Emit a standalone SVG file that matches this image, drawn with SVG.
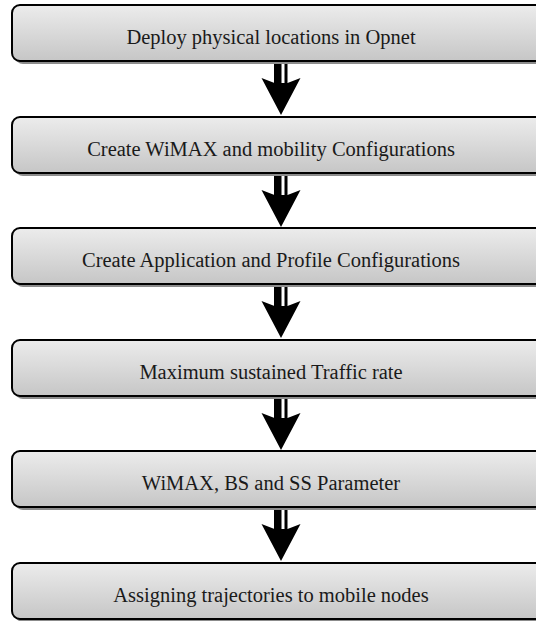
<svg xmlns="http://www.w3.org/2000/svg" width="536" height="621" viewBox="0 0 536 621">
  <defs>
    <linearGradient id="boxFill" x1="0" y1="0" x2="0" y2="1">
      <stop offset="0" stop-color="#ececec"/>
      <stop offset="1" stop-color="#c6c6c6"/>
    </linearGradient>
    <g id="downArrow">
      <!-- thick shaft, thin side rule, barbed head; origin at tip x, shaft top y -->
      <rect x="-7" y="0" width="7.5" height="24" fill="#000"/>
      <rect x="3.5" y="0" width="3" height="24" fill="#000"/>
      <path d="M-19.5,16 L-6.5,21 L6.5,21 L19.5,16 L0,53 Z" fill="#000"/>
    </g>
  </defs>
  <style>
    .shadow { fill: #8c8c8c; }
    .box { fill: url(#boxFill); stroke: #000; stroke-width: 2; }
    .label { font-family: "Liberation Serif", "Times New Roman", serif; font-size: 20.5px; fill: #1a1a1a; text-anchor: middle; dominant-baseline: central; }
  </style>

  <g id="connectors">
    <use href="#downArrow" x="281" y="62"/>
    <use href="#downArrow" x="281" y="174"/>
    <use href="#downArrow" x="281" y="285"/>
    <use href="#downArrow" x="281" y="397"/>
    <use href="#downArrow" x="281" y="508"/>
  </g>

  <g id="step1">
    <rect class="shadow" x="15" y="8" width="540" height="56" rx="8"/>
    <rect class="box" x="12" y="5" width="540" height="56" rx="8"/>
    <text class="label" x="271" y="37">Deploy physical locations in Opnet</text>
  </g>
  <g id="step2">
    <rect class="shadow" x="15" y="120" width="540" height="56" rx="8"/>
    <rect class="box" x="12" y="117" width="540" height="56" rx="8"/>
    <text class="label" x="271" y="149">Create WiMAX and mobility Configurations</text>
  </g>
  <g id="step3">
    <rect class="shadow" x="15" y="231" width="540" height="56" rx="8"/>
    <rect class="box" x="12" y="228" width="540" height="56" rx="8"/>
    <text class="label" x="271" y="260">Create Application and Profile Configurations</text>
  </g>
  <g id="step4">
    <rect class="shadow" x="15" y="343" width="540" height="56" rx="8"/>
    <rect class="box" x="12" y="340" width="540" height="56" rx="8"/>
    <text class="label" x="271" y="372">Maximum sustained Traffic rate</text>
  </g>
  <g id="step5">
    <rect class="shadow" x="15" y="454" width="540" height="56" rx="8"/>
    <rect class="box" x="12" y="451" width="540" height="56" rx="8"/>
    <text class="label" x="271" y="483">WiMAX, BS and SS Parameter</text>
  </g>
  <g id="step6">
    <rect class="shadow" x="15" y="566" width="540" height="56" rx="8"/>
    <rect class="box" x="12" y="563" width="540" height="56" rx="8"/>
    <text class="label" x="271" y="595">Assigning trajectories to mobile nodes</text>
  </g>
</svg>
